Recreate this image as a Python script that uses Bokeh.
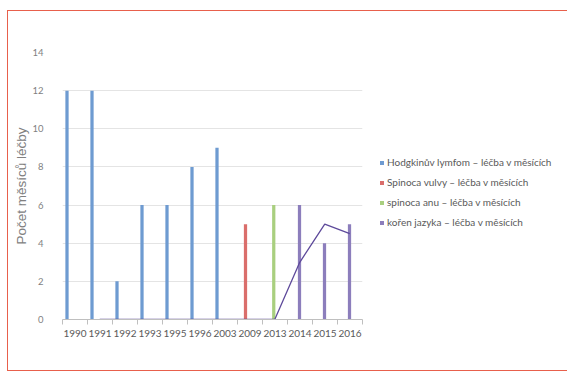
import numpy as np
from bokeh.plotting import figure
from bokeh.models import (Range1d, FixedTicker, Legend, LegendItem, Grid,
                          ColumnDataSource, LinearAxis)
from bokeh.embed import file_html
from bokeh.resources import INLINE

nan = float("nan")

# ---- data ----
years = ["1990", "1991", "1992", "1993", "1995", "1996", "2003", "2009", "2013", "2014", "2015", "2016"]
hodgkin = [12, 12, 2, 6, 6, 8, 9, nan, nan, nan, nan, nan]
vulvy = [nan, nan, nan, nan, nan, nan, nan, 5, nan, nan, nan, nan]
anu = [nan, nan, nan, nan, nan, nan, nan, nan, 6, nan, nan, nan]
jazyka = [nan, nan, nan, nan, nan, nan, nan, nan, nan, 6, 4, 5]
trend = [nan, 0, 0, 0, 0, 0, 0, 0, 0, 3, 5, 4.5]
y_ticks = [0, 2, 4, 6, 8, 10, 12, 14]

series_names = [
    "Hodgkinův lymfom – léčba v měsících",
    "Spinoca vulvy – léčba v měsících",
    "spinoca anu – léčba v měsících",
    "kořen jazyka – léčba v měsících",
]
colors = ["#6E9BD1", "#DA6E6B", "#A9CF7F", "#8C7EBC"]
offsets = [-0.32, -0.18, -0.05, -0.02]

idx = np.arange(len(years))

p = figure(frame_width=300, frame_height=267,
           min_border_left=54, min_border_right=204,
           min_border_top=41, min_border_bottom=51,
           x_range=Range1d(-0.5, len(years) - 0.5), y_range=Range1d(0, 14),
           x_axis_type=None, y_axis_type=None,
           output_backend="svg", toolbar_location=None)
p.outline_line_color = None
p.background_fill_color = "white"
p.border_fill_color = "white"
p.styles = {"margin-left": "7px", "margin-top": "10px",
            "border-left": "1.5px solid #E8604C",
            "border-top": "1.5px solid #E8604C",
            "border-bottom": "1.5px solid #E8604C"}

# axes
yaxis = LinearAxis(ticker=FixedTicker(ticks=y_ticks, minor_ticks=[]))
yaxis.axis_line_color = None
yaxis.major_tick_line_color = None
yaxis.minor_tick_line_color = None
yaxis.major_label_text_font = "Lato"
yaxis.major_label_text_font_size = "9.5px"
yaxis.major_label_text_color = "#7F7F7F"
yaxis.major_label_standoff = 13
yaxis.axis_label = "Počet měsíců léčby"
yaxis.axis_label_text_font = "Liberation Sans"
yaxis.axis_label_text_font_size = "13.5px"
yaxis.axis_label_text_font_style = "normal"
yaxis.axis_label_text_color = "#808080"
yaxis.axis_label_standoff = 0
p.add_layout(yaxis, "left")

xaxis = LinearAxis(ticker=FixedTicker(ticks=list(idx), minor_ticks=list(np.arange(-0.5, len(years), 1.0))))
xaxis.major_label_overrides = {int(i): y for i, y in zip(idx, years)}
xaxis.axis_line_color = "#BFBFBF"
xaxis.axis_line_width = 1
xaxis.major_tick_line_color = None
xaxis.minor_tick_line_color = "#BFBFBF"
xaxis.minor_tick_out = 5
xaxis.minor_tick_in = 0
xaxis.major_label_text_font = "Lato"
xaxis.major_label_text_font_size = "10px"
xaxis.major_label_text_color = "#595959"
xaxis.major_label_standoff = 4
p.add_layout(xaxis, "below")

g = Grid(dimension=1, ticker=yaxis.ticker, grid_line_color="#E4E4E4", grid_line_width=1)
p.add_layout(g)

renderers = []
for vals, col, off in zip([hodgkin, vulvy, anu, jazyka], colors, offsets):
    src = ColumnDataSource(dict(x=idx + off, top=vals))
    r = p.vbar(x="x", top="top", bottom=0, width=0.13, source=src,
               fill_color=col, line_color=None)
    renderers.append(r)

p.line(x=idx - 0.01, y=trend, line_color="#5E4A9B", line_width=1.3)

legend = Legend(items=[LegendItem(label=n, renderers=[r]) for n, r in zip(series_names, renderers)],
                location=(17, 90))
legend.label_text_font = "Lato"
legend.label_text_font_size = "10px"
legend.label_text_color = "#595959"
legend.glyph_width = 5
legend.glyph_height = 5
legend.label_standoff = 3
legend.label_height = 14
legend.spacing = 6
legend.padding = 0
legend.margin = 0
legend.border_line_color = None
legend.background_fill_alpha = 0
p.add_layout(legend, "right")

open("out.html", "w").write(file_html(p, INLINE))
